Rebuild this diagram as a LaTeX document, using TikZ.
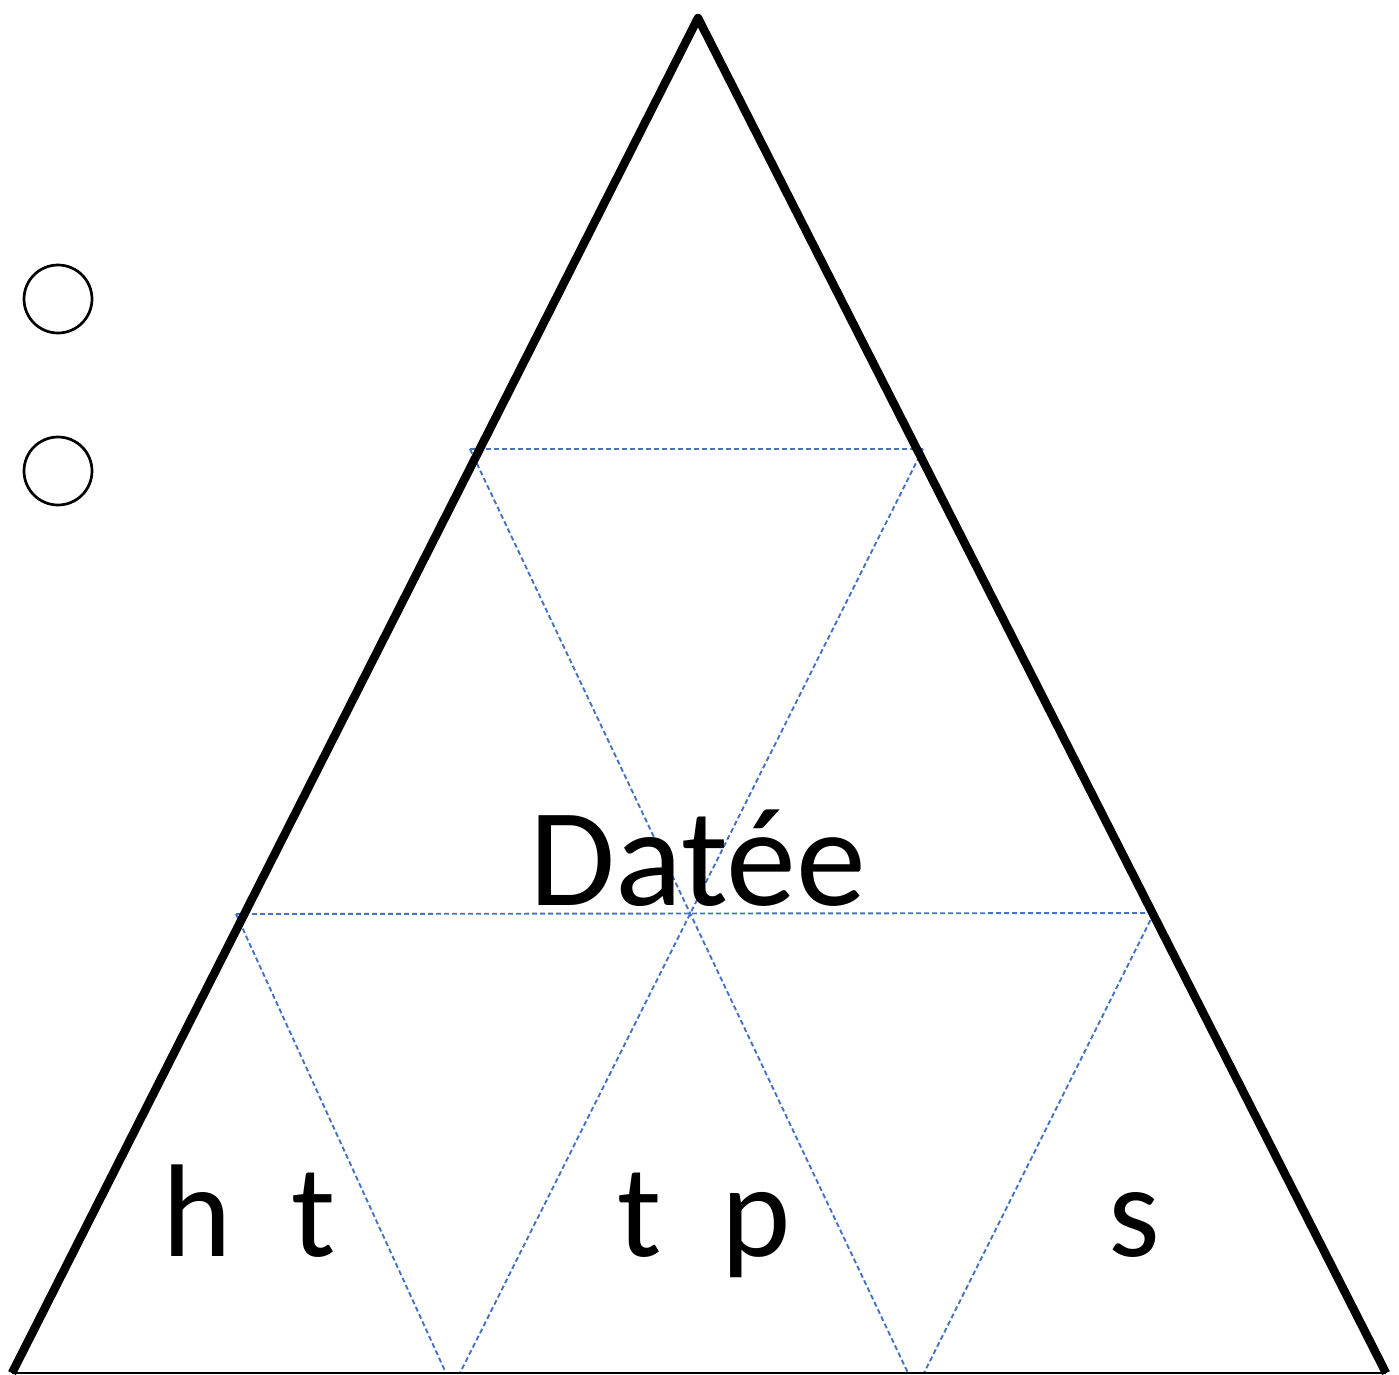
\documentclass[tikz,border=0pt]{standalone}
\usepackage{fontspec}
\setmainfont{Carlito}
\definecolor{dashblue}{HTML}{4472C4}
\tikzset{
  side/.style={line width=8.5pt, line join=round},
  baseline edge/.style={line width=2pt},
  grid line/.style={dashblue, line width=1.9pt, dash pattern=on 5pt off 3pt},
  ring/.style={circle, draw, line width=2.7pt, minimum size=68pt, inner sep=0pt},
  label big/.style={anchor=base, inner sep=0pt, font=\fontsize{140}{140}\selectfont},
  label small/.style={anchor=base, inner sep=0pt, font=\fontsize{132}{132}\selectfont}
}
\begin{document}
\begin{tikzpicture}[x=1pt,y=-1pt]
\useasboundingbox (0,0) rectangle (1399,1374);
% vertices
\coordinate (A) at (698,18);
\coordinate (BL) at (12,1373);
\coordinate (BR) at (1386,1373);
% grid points
\coordinate (U1) at (470,449);
\coordinate (U2) at (923,449);
\coordinate (M1) at (236,914);
\coordinate (M2) at (1154,913);
\coordinate (C) at (690,913.5);
\coordinate (B1) at (446,1373);
\coordinate (B2) at (460,1373);
\coordinate (B3) at (908,1373);
\coordinate (B4) at (924,1373);
% dashed grid
\draw[grid line] (U1) -- (U2);
\draw[grid line] (M1) -- (M2);
\draw[grid line] (U1) -- (B3);
\draw[grid line] (U2) -- (B2);
\draw[grid line] (M1) -- (B1);
\draw[grid line] (M2) -- (B4);
% triangle
\draw[side] (BL) -- (A) -- (BR);
\draw[baseline edge] (BL) -- (BR);
% circles
\node[ring] (c1) at (58,299) {};
\node[ring] (c2) at (58,471) {};
% texts
\node[label big] (datee) at (698,905) {Datée};
\node[label small] (ht) at (249,1256) {h\ \ t};
\node[label small] (tp) at (704,1256) {t\ \ p};
\node[label small] (s) at (1134,1256) {s};
\end{tikzpicture}
\end{document}
